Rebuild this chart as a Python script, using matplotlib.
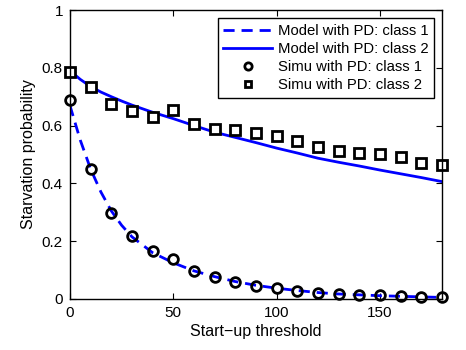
import matplotlib
matplotlib.use("Agg")
import matplotlib.pyplot as plt

plt.rcParams["font.family"] = ["Liberation Sans", "DejaVu Sans"]

# ─── Data ─────────────────────────────────────────────────────────────────────
# analytical model curves
model_x = [0, 5, 10, 15, 20, 25, 30, 40, 50, 60, 70, 80, 90, 100,
           110, 120, 130, 140, 150, 160, 170, 180]
model_c1 = [0.67, 0.55, 0.45, 0.37, 0.305, 0.255, 0.215, 0.16, 0.125, 0.097,
            0.077, 0.06, 0.047, 0.037, 0.029, 0.022, 0.017, 0.014, 0.011,
            0.009, 0.007, 0.005]
model_c2 = [0.79, 0.76, 0.735, 0.716, 0.70, 0.685, 0.671, 0.646, 0.624, 0.600,
            0.577, 0.559, 0.541, 0.522, 0.505, 0.487, 0.473, 0.46, 0.446,
            0.433, 0.42, 0.406]

# simulation points
simu_x = [0, 10, 20, 30, 40, 50, 60, 70, 80, 90, 100, 110, 120, 130, 140,
          150, 160, 170, 180]
simu_c1 = [0.689, 0.449, 0.299, 0.219, 0.165, 0.137, 0.098, 0.077, 0.060,
           0.045, 0.038, 0.028, 0.022, 0.018, 0.015, 0.013, 0.009, 0.008, 0.006]
simu_c2 = [0.786, 0.735, 0.674, 0.650, 0.629, 0.654, 0.604, 0.589, 0.583,
           0.573, 0.565, 0.548, 0.527, 0.512, 0.504, 0.502, 0.492, 0.472, 0.465]

xticks = [0, 50, 100, 150]
yticks = [0, 0.2, 0.4, 0.6, 0.8, 1]
ytick_labels = ["0", "0.2", "0.4", "0.6", "0.8", "1"]

# ─── Plot ─────────────────────────────────────────────────────────────────────
fig = plt.figure(figsize=(4.66, 3.5), dpi=100)
ax = fig.add_axes([0.150, 0.146, 0.7985, 0.8254])

ax.plot(model_x, model_c1, color="blue", lw=2.0, ls=(0, (4, 2.5)),
        label="Model with PD: class 1")
ax.plot(model_x, model_c2, color="blue", lw=2.0, ls="-",
        label="Model with PD: class 2")
ax.plot(simu_x, simu_c1, ls="none", marker="o", ms=7, mew=2.0,
        mec="black", mfc="none", label="Simu with PD: class 1", clip_on=False)
ax.plot(simu_x, simu_c2, ls="none", marker="s", ms=6.5, mew=2.0,
        mec="black", mfc="white", label="Simu with PD: class 2", clip_on=False)

ax.set_xlim(0, 180)
ax.set_ylim(0, 1)
ax.set_xticks(xticks)
ax.set_yticks(yticks)
ax.set_yticklabels(ytick_labels)
ax.tick_params(direction="in", length=4, width=0.8, top=True, right=True,
               labelsize=11, pad=5)
for s in ax.spines.values():
    s.set_linewidth(1.0)

ax.set_xlabel("Start\u2212up threshold", fontsize=11.5, labelpad=3)
ax.set_ylabel("Starvation probability", fontsize=11.5, labelpad=4)

leg = ax.legend(loc="upper right", fontsize=10.7, frameon=True, fancybox=False,
                edgecolor="black", framealpha=1, handlelength=3.3,
                handletextpad=0.35, labelspacing=0.27, borderpad=0.38,
                borderaxespad=0.55, markerscale=0.75)
leg.get_frame().set_linewidth(1.0)

fig.savefig("out.png", dpi=100)
plt.close(fig)
